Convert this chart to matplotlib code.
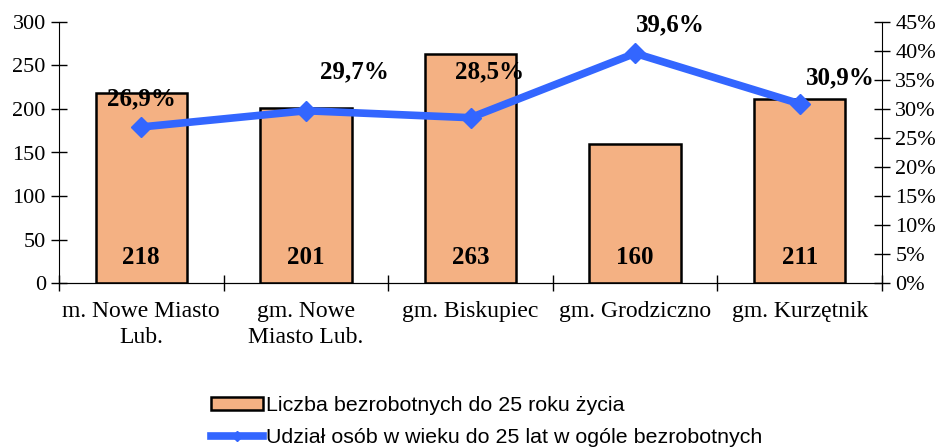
import matplotlib.pyplot as plt
import numpy as np

categories = ["m. Nowe Miasto\nLub.", "gm. Nowe\nMiasto Lub.", "gm. Biskupiec",
              "gm. Grodziczno", "gm. Kurzętnik"]
counts = [218, 201, 263, 160, 211]
shares = [26.9, 29.7, 28.5, 39.6, 30.9]
share_labels = ["26,9%", "29,7%", "28,5%", "39,6%", "30,9%"]
# label offsets from the line point, in pixels
label_offsets = [(0, 28), (49, 39), (19, 46), (35, 29), (41, 26)]

bar_color = '#F4B183'
line_color = '#3366FF'
serif = 'Liberation Serif'

fig = plt.figure(figsize=(9.36, 4.48), dpi=100)
ax = fig.add_axes([59/936, 1-283/448, (882-59)/936, (283-22)/448])
ax2 = ax.twinx()

x = np.arange(len(categories))
bars = ax.bar(x, counts, width=0.555, color=bar_color, edgecolor='black', linewidth=1.8,
              label="Liczba bezrobotnych do 25 roku życia", zorder=2)
for xi, c in zip(x, counts):
    ax.text(xi, 29, str(c), ha='center', va='center', fontsize=18,
            fontweight='bold', family=serif)

line, = ax2.plot(x, shares, color=line_color, linewidth=5.5, marker='D', markersize=10,
                 label="Udział osób w wieku do 25 lat w ogóle bezrobotnych", zorder=3)
for xi, s, lab, off in zip(x, shares, share_labels, label_offsets):
    ax2.annotate(lab, (xi, s), xytext=off, textcoords='offset pixels', ha='center',
                 va='center', fontsize=18, fontweight='bold', family=serif)

ax.set_xlim(-0.5, len(categories) - 0.5)
ax.set_ylim(0, 300)
ax.set_yticks(range(0, 301, 50))
ax2.set_ylim(0, 45)
ax2.set_yticks(range(0, 46, 5))
ax2.set_yticklabels([f"{v}%" for v in range(0, 46, 5)])

ax.set_xticks(np.arange(-0.5, len(categories) + 0.5, 1))
ax.set_xticklabels([])
ax.set_xticks(x, minor=True)
ax.set_xticklabels(categories, minor=True, linespacing=1.3)
ax.tick_params(axis='x', which='minor', length=0, pad=13)
ax.tick_params(axis='x', which='major', direction='inout', length=12, width=1)
ax.tick_params(axis='y', direction='inout', length=12, width=1)
ax2.tick_params(axis='y', direction='inout', length=12, width=1)

for a in (ax, ax2):
    a.spines['top'].set_visible(False)
    for lab in a.get_yticklabels():
        lab.set_family(serif)
        lab.set_fontsize(16)
for lab in ax.get_xticklabels(which='minor'):
    lab.set_family(serif)
    lab.set_fontsize(17)
ax2.spines['left'].set_visible(False)
ax.spines['right'].set_visible(False)

fig.legend([bars, line], [bars.get_label(), line.get_label()], loc='upper left',
           bbox_to_anchor=(211/936, 1-396/448), frameon=False, borderpad=0,
           borderaxespad=0, handlelength=2.45, handleheight=0.56, handletextpad=0.1,
           labelspacing=0.6, markerscale=0.5,
           prop={'family': 'Liberation Sans', 'size': 15.4})

fig.savefig('out.png', dpi=100)
